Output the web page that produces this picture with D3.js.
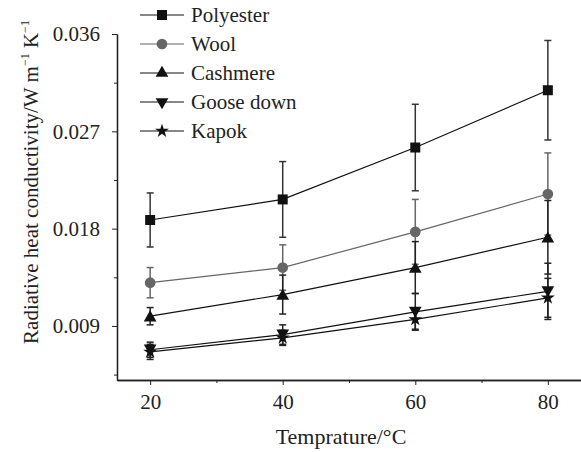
<!DOCTYPE html>
<html><head><meta charset="utf-8">
<script src="https://cdn.jsdelivr.net/npm/d3@7"></script>
<style>body{margin:0;background:#fff}svg{display:block}</style>
</head><body>
<script>
const temps = [20, 40, 60, 80];
const seriesNames = ["Polyester", "Wool", "Cashmere", "Goose down", "Kapok"];
const polyester = [0.0188, 0.0207, 0.0255, 0.0308];
const polyesterErr = [0.0025, 0.0035, 0.0040, 0.0046];
const wool = [0.0130, 0.0144, 0.0177, 0.0212];
const woolErr = [0.0014, 0.0021, 0.0030, 0.0038];
const cashmere = [0.0099, 0.0119, 0.0144, 0.0172];
const cashmereErr = [0.0008, 0.0018, 0.0024, 0.0034];
const gooseDown = [0.0068, 0.0082, 0.0103, 0.0122];
const gooseDownErr = [0.0007, 0.0009, 0.0017, 0.0026];
const kapok = [0.0066, 0.0079, 0.0096, 0.0116];
const kapokErr = [0.0007, 0.0007, 0.0009, 0.0018];
const yTicks = [0.009, 0.018, 0.027, 0.036];
const yMinor = [0.0045, 0.0135, 0.0225, 0.0315];
const xTicks = [20, 40, 60, 80];
const xMinor = [30, 50, 70];

const FONT = "'Liberation Serif', 'DejaVu Serif', serif";
const W = 581, H = 452;
const svg = d3.select("body").append("svg").attr("width", W).attr("height", H)
  .attr("font-family", FONT);
const x = d3.scaleLinear().domain([15, 85]).range([117, 581]);
const y = d3.scaleLinear().domain([0.004, 0.036]).range([380, 34]);

const series = [
  {name: seriesNames[0], v: polyester, e: polyesterErr, sym: d3.symbolSquare, size: 100, rot: 0, fill: "#111", line: "#111", err: "#333"},
  {name: seriesNames[1], v: wool, e: woolErr, sym: d3.symbolCircle, size: 90, rot: 0, fill: "#666", line: "#666", err: "#666"},
  {name: seriesNames[2], v: cashmere, e: cashmereErr, sym: d3.symbolTriangle, size: 70, rot: 0, fill: "#111", line: "#111", err: "#222"},
  {name: seriesNames[3], v: gooseDown, e: gooseDownErr, sym: d3.symbolTriangle, size: 70, rot: 180, fill: "#111", line: "#111", err: "#222"},
  {name: seriesNames[4], v: kapok, e: kapokErr, sym: d3.symbolStar, size: 60, rot: 0, fill: "#111", line: "#111", err: "#222"}
];

// axes
svg.append("g").attr("transform", "translate(0,380)")
  .call(d3.axisBottom(x).tickValues(xTicks).tickSize(5).tickSizeOuter(0).tickPadding(9).tickFormat(d3.format("d")));
svg.append("g").attr("transform", "translate(0,380)")
  .call(d3.axisBottom(x).tickValues(xMinor).tickSize(3).tickSizeOuter(0).tickFormat(""));
svg.append("g").attr("transform", "translate(117,0)")
  .call(d3.axisLeft(y).tickValues(yTicks).tickSize(5).tickSizeOuter(0).tickPadding(12).tickFormat(d3.format(".3f")));
svg.append("g").attr("transform", "translate(117,0)")
  .call(d3.axisLeft(y).tickValues(yMinor).tickSize(3).tickSizeOuter(0).tickFormat(""));
svg.selectAll("g").attr("font-family", FONT);
svg.selectAll(".domain").attr("stroke", "#222").attr("stroke-width", 1.3);
svg.selectAll(".tick line").attr("stroke", "#222");
svg.selectAll(".tick text").attr("font-size", 21).attr("fill", "#222").attr("font-family", FONT);

// error bars
series.forEach(s => {
  const g = svg.append("g");
  s.v.forEach((v, i) => {
    const cx = x(temps[i]);
    g.append("line").attr("x1", cx).attr("x2", cx).attr("y1", y(v + s.e[i])).attr("y2", y(v - s.e[i]))
      .attr("stroke", s.err).attr("stroke-width", 1.5);
    [v + s.e[i], v - s.e[i]].forEach(t => g.append("line").attr("x1", cx - 3.5).attr("x2", cx + 3.5)
      .attr("y1", y(t)).attr("y2", y(t)).attr("stroke", s.err).attr("stroke-width", 1.5));
  });
});
// lines and markers
series.forEach(s => {
  svg.append("path").datum(s.v.map((v, i) => [temps[i], v]))
    .attr("d", d3.line().x(d => x(d[0])).y(d => y(d[1])))
    .attr("fill", "none").attr("stroke", s.line).attr("stroke-width", 1.2);
  s.v.forEach((v, i) => {
    const off = s.sym === d3.symbolTriangle ? (s.rot ? -1.5 : 1.5) : 0;
    svg.append("path").attr("d", d3.symbol().type(s.sym).size(s.size)())
      .attr("transform", `translate(${x(temps[i])},${y(v) + off}) rotate(${s.rot})`)
      .attr("fill", s.fill);
  });
});

// legend
const legY = [15, 44, 73, 102, 131];
series.forEach((s, i) => {
  const ly = legY[i];
  svg.append("line").attr("x1", 140).attr("x2", 184).attr("y1", ly).attr("y2", ly)
    .attr("stroke", s.line).attr("stroke-width", 1.2);
  svg.append("path").attr("d", d3.symbol().type(s.sym).size(s.size)())
    .attr("transform", `translate(162,${ly}) rotate(${s.rot})`).attr("fill", s.fill);
  svg.append("text").attr("x", 191).attr("y", ly + 7).attr("font-size", 21).attr("fill", "#222")
    .attr("font-family", FONT).text(s.name);
});

// axis titles
svg.append("text").attr("x", 341).attr("y", 444).attr("text-anchor", "middle").attr("font-size", 22)
  .attr("fill", "#222").attr("font-family", FONT).text("Temprature/°C");
const yl = svg.append("text").attr("transform", "translate(38,182) rotate(-90)").attr("text-anchor", "middle")
  .attr("font-size", 21).attr("fill", "#222").attr("font-family", FONT);
yl.append("tspan").text("Radiative heat conductivity/W m");
yl.append("tspan").attr("font-size", 12).attr("dy", -9).text("−1");
yl.append("tspan").attr("dy", 9).text(" K");
yl.append("tspan").attr("font-size", 12).attr("dy", -9).text("−1");
</script>
</body></html>
